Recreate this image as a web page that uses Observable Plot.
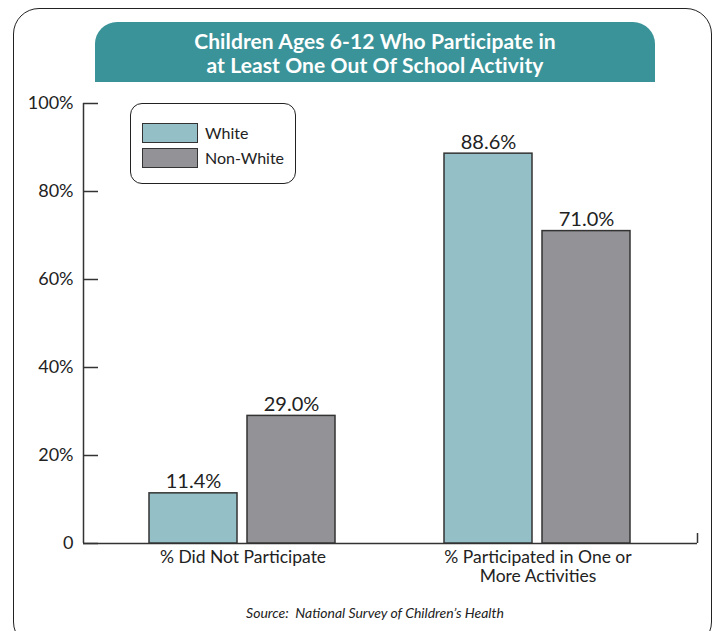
<!DOCTYPE html>
<html><head><meta charset="utf-8">
<script src="https://cdn.jsdelivr.net/npm/d3@7"></script>
<script src="https://cdn.jsdelivr.net/npm/@observablehq/plot@0.6"></script>
<style>
body{margin:0;background:#fff;font-family:Lato,"Open Sans",sans-serif;color:#222;}
#wrap{position:relative;width:715px;height:631px;overflow:hidden;background:#fff;}
#frame{position:absolute;left:13px;top:8px;width:699px;height:640px;border:1.6px solid #222;border-radius:26px;box-sizing:border-box;}
#title{position:absolute;left:95px;top:22px;width:560px;height:60px;background:#3a9398;border-radius:22px 22px 0 0;color:#fff;font-weight:700;font-size:21px;line-height:24px;text-align:center;padding-top:7px;box-sizing:border-box;letter-spacing:0.1px;}
.layer{position:absolute;left:0;top:0;}
#legend{position:absolute;left:130px;top:103px;width:166px;height:81px;border:1.5px solid #222;border-radius:12px;box-sizing:border-box;background:#fff;}
.sw{position:absolute;left:11px;width:56px;height:20px;border:1.5px solid #333;box-sizing:border-box;}
.lt{position:absolute;left:74px;font-size:16px;line-height:20px;color:#222;}
#source{position:absolute;left:0;top:604px;width:750px;text-align:center;font-style:italic;font-size:14px;color:#222;}
</style>
</head><body>
<div id="wrap">
  <div id="frame"></div>
  <div id="title">Children Ages 6-12 Who Participate in<br>at Least One Out Of School Activity</div>
  <div id="axes" class="layer"></div>
  <div id="bars" class="layer"></div>
  <div id="legend"></div>
  <div id="source">Source:&nbsp; National Survey of Children’s Health</div>
</div>
<script>
const categories = ["% Did Not Participate", "% Participated in One or\nMore Activities"];
const series = ["White", "Non-White"];
const whiteValues = [11.4, 88.6];
const nonWhiteValues = [29.0, 71.0];
const yTicks = [0, 20, 40, 60, 80, 100];
const colors = ["#95bfc6", "#939397"];

const data = [];
categories.forEach((c, i) => {
  data.push({category: c, series: series[0], value: whiteValues[i]});
  data.push({category: c, series: series[1], value: nonWhiteValues[i]});
});

const W = 715, H = 631;
const margins = {marginLeft: 83, marginRight: 18, marginTop: 103, marginBottom: 88};

const axes = Plot.plot({
  width: W, height: H, ...margins,
  style: {background: "transparent", fontFamily: "Lato, sans-serif", color: "#222", overflow: "visible"},
  x: {domain: [0, 1], axis: null},
  y: {domain: [0, 100], axis: null},
  marks: [
    Plot.axisY(yTicks, {tickSize: -15, tickPadding: 25, tickFormat: d => d === 0 ? "0" : d + "%", fontSize: 18, label: null, stroke: "#333", strokeWidth: 1.5}),
    Plot.axisX([1], {tickSize: -10, tickFormat: () => "", label: null, stroke: "#333", strokeWidth: 1.5}),
    Plot.ruleX([0], {stroke: "#333", strokeWidth: 1.5}),
    Plot.ruleY([0], {stroke: "#333", strokeWidth: 1.5})
  ]
});
document.getElementById("axes").append(axes);

const bars = Plot.plot({
  width: W, height: H, ...margins,
  style: {background: "transparent", fontFamily: "Lato, sans-serif", color: "#222", overflow: "visible"},
  fx: {domain: categories, paddingInner: 0.3, paddingOuter: 0.19, label: null},
  x: {domain: series, paddingInner: 0.102, paddingOuter: 0.104, axis: null},
  y: {domain: [0, 100], axis: null},
  color: {domain: series, range: colors},
  marks: [
    Plot.barY(data, {fx: "category", x: "series", y: "value", fill: "series", stroke: "#333", strokeWidth: 1.5}),
    Plot.text(data, {fx: "category", x: "series", y: "value", text: d => d.value.toFixed(1) + "%", lineAnchor: "bottom", dy: -5, fontSize: 20, fill: "#222"}),
    Plot.axisFx({anchor: "bottom", tickSize: 0, tickPadding: 6, fontSize: 17.5, label: null, lineHeight: 1.1, fill: "#222"})
  ]
});
document.getElementById("bars").append(bars);

const legend = document.getElementById("legend");
series.forEach((s, i) => {
  const sw = document.createElement("div");
  sw.className = "sw";
  sw.style.top = (19 + i * 25) + "px";
  sw.style.background = colors[i];
  legend.append(sw);
  const t = document.createElement("div");
  t.className = "lt";
  t.style.top = (19 + i * 25) + "px";
  t.textContent = s;
  legend.append(t);
});
</script>
</body></html>
